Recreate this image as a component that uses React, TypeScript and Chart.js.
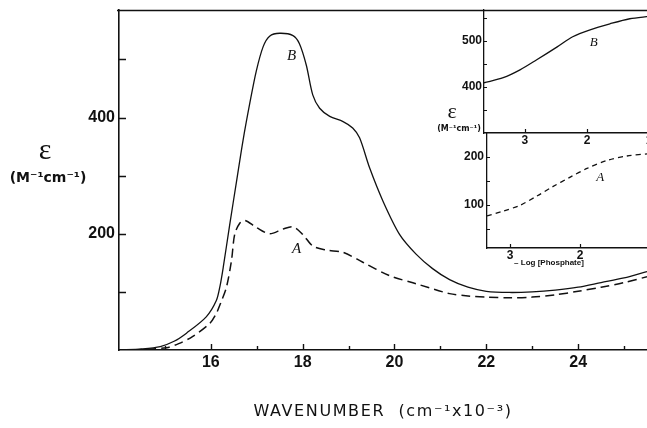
import React, { useEffect, useRef } from 'react';
import { Chart, registerables } from 'chart.js';

Chart.register(...registerables);

// ---- Main spectrum data (wavenumber, cm^-1 x 10^-3 ; epsilon, M^-1 cm^-1) ----
const wavenumberB = [14.0, 14.5, 14.9, 15.2, 15.47, 15.9, 16.12, 16.2, 16.27, 16.41, 16.56, 16.7, 16.85, 16.99, 17.14, 17.28, 17.5, 17.79, 17.93, 18.08, 18.22, 18.37, 18.59, 18.88, 19.09, 19.24, 19.46, 19.75, 20.11, 20.47, 20.83, 21.2, 21.6, 22.0, 22.5, 23.0, 23.5, 24.0, 24.5, 25.0, 25.5];
const epsilonB = [0, 2, 6, 15, 29, 57, 85, 110, 142, 215, 290, 360, 425, 480, 522, 540, 545, 541, 527, 490, 439, 416, 402, 393, 382, 365, 313, 256, 199, 165, 140, 121, 108, 101, 99, 100, 103, 108, 116, 124, 135];

const wavenumberA = [14.0, 14.5, 15.04, 15.3, 15.6, 15.98, 16.12, 16.22, 16.34, 16.45, 16.52, 16.63, 16.74, 16.99, 17.28, 17.57, 17.79, 18.0, 18.22, 18.51, 18.88, 19.31, 19.89, 20.47, 21.2, 21.6, 22.0, 22.5, 23.0, 23.5, 24.0, 24.5, 25.0, 25.5];
const epsilonA = [0, 1, 4, 11, 23, 46, 63, 82, 108, 154, 199, 218, 223, 211, 200, 208, 212, 199, 179, 172, 168, 151, 128, 114, 97, 93, 91, 90, 91, 95, 101, 108, 116, 126];

const mainXTicks = [15, 16, 17, 18, 19, 20, 21, 22, 23, 24, 25];
const mainXLabels = [16, 18, 20, 22, 24];
const mainYTicks = [100, 200, 300, 400, 500];
const mainYLabels = [200, 400];

// ---- Inset data (-log[phosphate], epsilon) ----
const logPhosB = [3.66, 3.35, 3.08, 2.81, 2.48, 2.23, 1.95, 1.63, 1.31, 1.0];
const insetEpsB = [409, 420, 437, 459, 487, 509, 524, 537, 548, 553];
const logPhosA = [3.33, 3.1, 2.86, 2.61, 2.39, 2.14, 1.9, 1.61, 1.33, 1.0];
const insetEpsA = [77, 87, 99, 119, 138, 158, 176, 193, 202, 207];

const insetXTicks = [1, 2, 3];
const upperYTicks = [350, 400, 450, 500, 550];
const upperYLabels = [400, 500];
const lowerYTicks = [50, 100, 150, 200];
const lowerYLabels = [100, 200];

const INK = '#111111';

type DecoFn = (chart: any, ctx: CanvasRenderingContext2D) => void;

function decoPlugin(id: string, fn: DecoFn) {
  return {
    id,
    afterDraw(chart: any) {
      const ctx = chart.ctx as CanvasRenderingContext2D;
      ctx.save();
      fn(chart, ctx);
      ctx.restore();
    },
  };
}

function drawInwardTicks(
  chart: any,
  ctx: CanvasRenderingContext2D,
  xVals: number[],
  xMajor: number[],
  majorLen: number,
  minorLen: number,
  yVals: number[],
  yLen: number,
  lw: number
) {
  const { x, y } = chart.scales;
  const a = chart.chartArea;
  ctx.strokeStyle = INK;
  ctx.lineWidth = lw;
  ctx.beginPath();
  for (const v of xVals) {
    const px = Math.round(x.getPixelForValue(v)) + 0.5;
    if (px < a.left - 1 || px > a.right + 1) continue;
    const len = xMajor.includes(v) ? majorLen : minorLen;
    ctx.moveTo(px, a.bottom);
    ctx.lineTo(px, a.bottom - len);
  }
  for (const v of yVals) {
    const py = Math.round(y.getPixelForValue(v)) + 0.5;
    if (py < a.top - 1 || py > a.bottom + 1) continue;
    ctx.moveTo(a.left, py);
    ctx.lineTo(a.left + yLen, py);
  }
  ctx.stroke();
}

function text(ctx: CanvasRenderingContext2D, s: string, x: number, y: number, font: string, align: CanvasTextAlign = 'center', spacing = '0px') {
  ctx.font = font;
  ctx.fillStyle = INK;
  ctx.textAlign = align;
  ctx.textBaseline = 'middle';
  (ctx as any).letterSpacing = spacing;
  ctx.fillText(s, x, y);
  (ctx as any).letterSpacing = '0px';
}

function pts(xs: number[], ys: number[]) {
  return xs.map((v, i) => ({ x: v, y: ys[i] }));
}

const fitX = (h: number) => (s: any) => {
  s.height = h;
  s.paddingLeft = 0;
  s.paddingRight = 0;
};
const fitY = (w: number) => (s: any) => {
  s.width = w;
  s.paddingTop = 0;
  s.paddingBottom = 0;
};

const TICK_FONT_MAIN = { family: "'Liberation Sans', Arial, sans-serif", size: 16, weight: 'bold' as const };
const TICK_FONT_INSET = { family: "'Liberation Sans', Arial, sans-serif", size: 12, weight: 'bold' as const };

export default function App() {
  const mainRef = useRef<HTMLCanvasElement>(null);
  const upRef = useRef<HTMLCanvasElement>(null);
  const lowRef = useRef<HTMLCanvasElement>(null);

  useEffect(() => {
    const charts: Chart[] = [];

    // ---------------- Main chart ----------------
    const mainDeco = decoPlugin('mainDeco', (chart, ctx) => {
      const a = chart.chartArea;
      const { x, y } = chart.scales;
      drawInwardTicks(chart, ctx, mainXTicks, mainXLabels, 6, 4, mainYTicks, 7, 1.4);
      // top frame line
      ctx.strokeStyle = INK;
      ctx.lineWidth = 1.5;
      ctx.beginPath();
      ctx.moveTo(a.left - 2, a.top + 0.5);
      ctx.lineTo(a.right, a.top + 0.5);
      ctx.stroke();
      // curve labels
      const it = "italic 15px 'Liberation Serif', 'DejaVu Serif', serif";
      text(ctx, 'B', x.getPixelForValue(17.76), y.getPixelForValue(506), it);
      text(ctx, 'A', x.getPixelForValue(17.87), y.getPixelForValue(174), it);
      // y axis label
      text(ctx, 'ε', 45, 151, "30px 'Liberation Serif', 'DejaVu Serif', serif");
      text(ctx, '(M⁻¹cm⁻¹)', 48, 178, "bold 14px 'DejaVu Sans', sans-serif");
      // x axis title
      text(ctx, 'WAVENUMBER  (cm⁻¹x10⁻³)', 383, 412, "16px 'DejaVu Sans', sans-serif", 'center', '1.6px');
      // inset y label
      text(ctx, 'ε', 452, 112, "22px 'Liberation Serif', 'DejaVu Serif', serif");
      text(ctx, '(M⁻¹cm⁻¹)', 481, 129, "bold 8px 'DejaVu Sans', sans-serif", 'right');
    });

    charts.push(
      new Chart(mainRef.current!, {
        type: 'line',
        data: {
          datasets: [
            {
              label: 'B',
              data: pts(wavenumberB, epsilonB),
              borderColor: INK,
              borderWidth: 1.3,
              pointRadius: 0,
              tension: 0.3,
              fill: false,
            },
            {
              label: 'A',
              data: pts(wavenumberA, epsilonA),
              borderColor: INK,
              borderWidth: 1.5,
              borderDash: [9, 5],
              pointRadius: 0,
              tension: 0.3,
              fill: false,
            },
          ],
        },
        options: {
          responsive: false,
          animation: false,
          devicePixelRatio: 1,
          layout: { padding: { top: 10, right: 0, left: 0, bottom: 0 } },
          plugins: { legend: { display: false }, tooltip: { enabled: false } },
          scales: {
            x: {
              type: 'linear',
              min: 14,
              max: 25.5,
              grid: { display: false, drawTicks: false },
              border: { display: true, color: INK, width: 1.6 },
              ticks: {
                autoSkip: false,
                maxRotation: 0,
                padding: 3,
                color: INK,
                font: TICK_FONT_MAIN,
                callback: (v: any) => (mainXLabels.includes(Number(v)) ? String(v) : ''),
              },
              afterBuildTicks: (s: any) => {
                s.ticks = mainXTicks.map((v) => ({ value: v }));
              },
              afterFit: fitX(78),
            },
            y: {
              type: 'linear',
              min: 0,
              max: 585,
              grid: { display: false, drawTicks: false },
              border: { display: true, color: INK, width: 1.6 },
              ticks: {
                autoSkip: false,
                padding: 4,
                color: INK,
                font: TICK_FONT_MAIN,
                callback: (v: any) => (mainYLabels.includes(Number(v)) ? String(v) : ''),
              },
              afterBuildTicks: (s: any) => {
                s.ticks = mainYTicks.map((v) => ({ value: v }));
              },
              afterFit: fitY(119),
            },
          },
        },
        plugins: [mainDeco],
      } as any)
    );

    // ---------------- Inset upper (B) ----------------
    const upDeco = decoPlugin('upDeco', (chart, ctx) => {
      const { x, y } = chart.scales;
      drawInwardTicks(chart, ctx, insetXTicks, insetXTicks, 4, 4, upperYTicks, 3, 1.2);
      text(ctx, 'B', x.getPixelForValue(1.89), y.getPixelForValue(496), "italic 13px 'Liberation Serif', 'DejaVu Serif', serif");
    });

    charts.push(
      new Chart(upRef.current!, {
        type: 'line',
        data: {
          datasets: [
            {
              label: 'B',
              data: pts(logPhosB, insetEpsB),
              borderColor: INK,
              borderWidth: 1.3,
              pointRadius: 0,
              tension: 0.3,
              fill: false,
            },
          ],
        },
        options: {
          responsive: false,
          animation: false,
          devicePixelRatio: 1,
          layout: { padding: { top: 10, right: 11, left: 0, bottom: 0 } },
          plugins: { legend: { display: false }, tooltip: { enabled: false } },
          scales: {
            x: {
              type: 'linear',
              reverse: true,
              min: 1.0,
              max: 3.66,
              grid: { display: false, drawTicks: false },
              border: { display: true, color: INK, width: 1.6 },
              ticks: {
                autoSkip: false,
                maxRotation: 0,
                padding: 0,
                color: INK,
                font: TICK_FONT_INSET,
                callback: (v: any) => String(v),
              },
              afterBuildTicks: (s: any) => {
                s.ticks = insetXTicks.map((v) => ({ value: v }));
              },
              afterFit: fitX(27),
            },
            y: {
              type: 'linear',
              min: 300,
              max: 567,
              grid: { display: false, drawTicks: false },
              border: { display: true, color: INK, width: 1.3 },
              ticks: {
                autoSkip: false,
                padding: 2,
                color: INK,
                font: TICK_FONT_INSET,
                callback: (v: any) => (upperYLabels.includes(Number(v)) ? String(v) : ''),
              },
              afterBuildTicks: (s: any) => {
                s.ticks = upperYTicks.map((v) => ({ value: v }));
              },
              afterFit: fitY(54),
            },
          },
        },
        plugins: [upDeco],
      } as any)
    );

    // ---------------- Inset lower (A) ----------------
    const lowDeco = decoPlugin('lowDeco', (chart, ctx) => {
      const { x, y } = chart.scales;
      drawInwardTicks(chart, ctx, insetXTicks, insetXTicks, 4, 4, lowerYTicks, 3, 1.2);
      text(ctx, 'A', x.getPixelForValue(1.71), y.getPixelForValue(158), "italic 13px 'Liberation Serif', 'DejaVu Serif', serif");
      text(ctx, '– Log [Phosphate]', 119, 143, "bold 8px 'Liberation Sans', Arial, sans-serif");
    });

    charts.push(
      new Chart(lowRef.current!, {
        type: 'line',
        data: {
          datasets: [
            {
              label: 'A',
              data: pts(logPhosA, insetEpsA),
              borderColor: INK,
              borderWidth: 1.3,
              borderDash: [5, 4],
              pointRadius: 0,
              tension: 0.3,
              fill: false,
            },
          ],
        },
        options: {
          responsive: false,
          animation: false,
          devicePixelRatio: 1,
          layout: { padding: { top: 13, right: 10, left: 0, bottom: 0 } },
          plugins: { legend: { display: false }, tooltip: { enabled: false } },
          scales: {
            x: {
              type: 'linear',
              reverse: true,
              min: 1.0,
              max: 3.33,
              grid: { display: false, drawTicks: false },
              border: { display: true, color: INK, width: 1.6 },
              ticks: {
                autoSkip: false,
                maxRotation: 0,
                padding: 0,
                color: INK,
                font: TICK_FONT_INSET,
                callback: (v: any) => String(v),
              },
              afterBuildTicks: (s: any) => {
                s.ticks = insetXTicks.map((v) => ({ value: v }));
              },
              afterFit: fitX(32),
            },
            y: {
              type: 'linear',
              min: 10,
              max: 250,
              grid: { display: false, drawTicks: false },
              border: { display: true, color: INK, width: 1.3 },
              ticks: {
                autoSkip: false,
                padding: 3,
                color: INK,
                font: TICK_FONT_INSET,
                callback: (v: any) => (lowerYLabels.includes(Number(v)) ? String(v) : ''),
              },
              afterBuildTicks: (s: any) => {
                s.ticks = lowerYTicks.map((v) => ({ value: v }));
              },
              afterFit: fitY(57),
            },
          },
        },
        plugins: [lowDeco],
      } as any)
    );

    return () => {
      charts.forEach((c) => c.destroy());
    };
  }, []);

  return (
    <div
      style={{
        position: 'fixed',
        left: 0,
        top: 0,
        width: 647,
        height: 428,
        overflow: 'hidden',
        background: '#ffffff',
      }}
    >
      <canvas ref={mainRef} width={647} height={428} style={{ position: 'absolute', left: 0, top: 0, display: 'block' }} />
      <canvas ref={upRef} width={230} height={160} style={{ position: 'absolute', left: 430, top: 0, display: 'block' }} />
      <canvas ref={lowRef} width={230} height={160} style={{ position: 'absolute', left: 430, top: 120, display: 'block' }} />
    </div>
  );
}
